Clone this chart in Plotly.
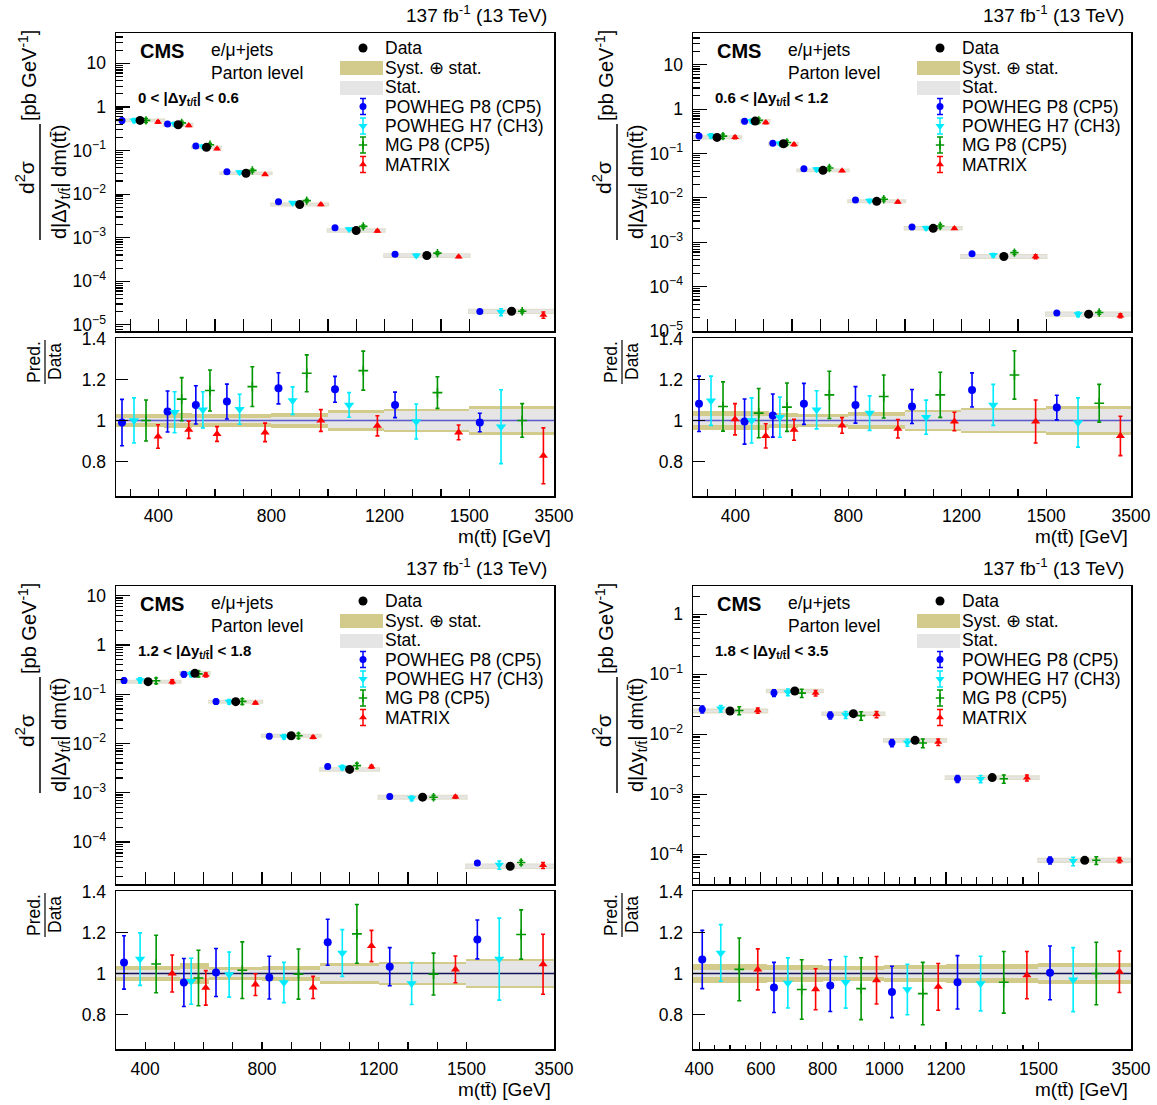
import plotly.graph_objects as go

W, H = 1157, 1105
FONT = "Liberation Sans, Arial, Helvetica, sans-serif"

# ---------------- data ----------------
# bin edges in m(tt) [GeV]
EDGES_A = [250, 420, 520, 620, 800, 1000, 1200, 1500, 3500]   # |dy| < 0.6
EDGES_B = [250, 420, 520, 620, 800, 1000, 1200, 1500, 3500]   # 0.6-1.2
EDGES_C = [300, 520, 620, 800, 1000, 1200, 1500, 3500]        # 1.2-1.8
EDGES_D = [380, 620, 800, 1000, 1200, 1500, 3500]             # 1.8-3.5

# measured cross sections [pb/GeV]
DATA_A = [0.49, 0.39, 0.118, 0.030, 0.00576, 0.00146, 3.9e-4, 2.05e-5]
DATA_B = [0.23, 0.537, 0.166, 0.0417, 0.00836, 0.00206, 4.77e-4, 2.4e-5]
DATA_C = [0.18, 0.265, 0.0705, 0.01436, 0.00297, 8.13e-4, 3.22e-5]
DATA_D = [0.0245, 0.0527, 0.0221, 0.00794, 0.0019, 7.94e-5]

# relative uncertainties (total = syst+stat, stat)
TOT_A = [0.032, 0.038, 0.033, 0.030, 0.036, 0.050, 0.057, 0.070]
STAT_A = [0.014, 0.013, 0.013, 0.014, 0.017, 0.036, 0.045, 0.058]
TOT_B = [0.045, 0.045, 0.035, 0.034, 0.040, 0.053, 0.062, 0.070]
STAT_B = [0.020, 0.020, 0.015, 0.015, 0.020, 0.040, 0.050, 0.058]
TOT_C = [0.036, 0.049, 0.034, 0.036, 0.050, 0.057, 0.072]
STAT_C = [0.018, 0.020, 0.015, 0.018, 0.035, 0.045, 0.060]
TOT_D = [0.047, 0.040, 0.037, 0.043, 0.047, 0.052]
STAT_D = [0.018, 0.015, 0.015, 0.020, 0.022, 0.030]

# prediction / data ratios and their uncertainties
P8_A = [0.99, 1.044, 1.076, 1.092, 1.157, 1.152, 1.076, 0.99]
P8E_A = [0.113, 0.10, 0.093, 0.085, 0.076, 0.063, 0.062, 0.045]
H7_A = [1.0, 1.04, 1.052, 1.055, 1.097, 1.076, 0.995, 0.97]
H7E_A = [0.11, 0.10, 0.088, 0.073, 0.067, 0.06, 0.085, 0.18]
MG_A = [1.0, 1.104, 1.146, 1.165, 1.23, 1.243, 1.136, 1.0]
MGE_A = [0.10, 0.105, 0.10, 0.097, 0.09, 0.095, 0.077, 0.082]
MX_A = [0.922, 0.955, 0.934, 0.942, 1.0, 0.974, 0.942, 0.828]
MXE_A = [0.057, 0.042, 0.036, 0.045, 0.053, 0.049, 0.036, 0.136]

P8_B = [1.081, 0.995, 1.024, 1.081, 1.076, 1.068, 1.149, 1.063]
P8E_B = [0.135, 0.11, 0.105, 0.10, 0.089, 0.083, 0.083, 0.06]
H7_B = [1.096, 1.0, 1.016, 1.052, 1.036, 1.016, 1.076, 0.99]
H7E_B = [0.12, 0.11, 0.098, 0.093, 0.084, 0.083, 0.10, 0.12]
MG_B = [1.068, 1.036, 1.065, 1.125, 1.117, 1.125, 1.222, 1.084]
MGE_B = [0.12, 0.12, 0.118, 0.115, 0.105, 0.11, 0.118, 0.092]
MX_B = [1.006, 0.925, 0.955, 0.976, 0.96, 0.995, 0.995, 0.925]
MXE_B = [0.076, 0.059, 0.051, 0.038, 0.045, 0.045, 0.105, 0.096]

P8_C = [1.054, 0.956, 1.005, 0.98, 1.152, 1.033, 1.166]
P8E_C = [0.13, 0.117, 0.117, 0.104, 0.112, 0.093, 0.095]
H7_C = [1.07, 0.962, 0.995, 0.956, 1.10, 0.951, 1.07]
H7E_C = [0.128, 0.112, 0.11, 0.098, 0.114, 0.102, 0.20]
MG_C = [1.046, 0.978, 1.016, 0.997, 1.193, 0.997, 1.19]
MGE_C = [0.14, 0.135, 0.138, 0.122, 0.143, 0.102, 0.12]
MX_C = [1.0, 0.93, 0.946, 0.932, 1.134, 1.02, 1.045]
MXE_C = [0.09, 0.084, 0.053, 0.054, 0.076, 0.065, 0.146]

P8_D = [1.068, 0.932, 0.941, 0.91, 0.957, 1.003]
P8E_D = [0.142, 0.122, 0.126, 0.125, 0.13, 0.131]
H7_D = [1.10, 0.954, 0.957, 0.922, 0.951, 0.97]
H7E_D = [0.138, 0.122, 0.126, 0.123, 0.133, 0.156]
MG_D = [1.02, 0.922, 0.926, 0.902, 0.957, 1.0]
MGE_D = [0.153, 0.145, 0.151, 0.152, 0.15, 0.152]
MX_D = [1.02, 0.923, 0.967, 0.935, 0.992, 1.008]
MXE_D = [0.10, 0.10, 0.116, 0.114, 0.115, 0.101]

DY_LABELS = ["0 < |\u0394y<sub>t/t\u0304</sub>| < 0.6", "0.6 < |\u0394y<sub>t/t\u0304</sub>| < 1.2",
             "1.2 < |\u0394y<sub>t/t\u0304</sub>| < 1.8", "1.8 < |\u0394y<sub>t/t\u0304</sub>| < 3.5"]
LEGEND_NAMES = ["Data", "Syst. \u2295 stat.", "Stat.", "POWHEG P8 (CP5)", "POWHEG H7 (CH3)",
                "MG P8 (CP5)", "MATRIX"]

# ---------------- styles ----------------
KHAKI = "rgb(211,203,140)"
STATGRAY = "rgb(229,229,229)"
BLUE = "rgb(0,0,255)"
CYAN = "rgb(0,235,255)"
GREEN = "rgb(0,150,0)"
RED = "rgb(255,0,0)"


def disp(m):
    # display coordinate: linear up to 1500 GeV, last bin (1500-3500) compressed
    return m if m <= 1500 else 1500 + (m - 1500) * 300.0 / 2000.0


panels = [
    dict(edges=EDGES_A, data=DATA_A, tot=TOT_A, stat=STAT_A,
         preds=[(P8_A, P8E_A), (H7_A, H7E_A), (MG_A, MGE_A), (MX_A, MXE_A)],
         yr=[-5.14, 1.695], dec=list(range(-5, 2)), col=0, row=0, line="rgb(90,90,205)",
         xlab=[400, 800, 1200, 1500, 3500], step=100),
    dict(edges=EDGES_B, data=DATA_B, tot=TOT_B, stat=STAT_B,
         preds=[(P8_B, P8E_B), (H7_B, H7E_B), (MG_B, MGE_B), (MX_B, MXE_B)],
         yr=[-5.0, 1.715], dec=list(range(-5, 2)), col=1, row=0, line="rgb(90,90,205)",
         xlab=[400, 800, 1200, 1500, 3500], step=100),
    dict(edges=EDGES_C, data=DATA_C, tot=TOT_C, stat=STAT_C,
         preds=[(P8_C, P8E_C), (H7_C, H7E_C), (MG_C, MGE_C), (MX_C, MXE_C)],
         yr=[-4.853, 1.197], dec=list(range(-4, 2)), col=0, row=1, line="rgb(20,20,90)",
         xlab=[400, 800, 1200, 1500, 3500], step=100),
    dict(edges=EDGES_D, data=DATA_D, tot=TOT_D, stat=STAT_D,
         preds=[(P8_D, P8E_D), (H7_D, H7E_D), (MG_D, MGE_D), (MX_D, MXE_D)],
         yr=[-4.495, 0.472], dec=list(range(-4, 1)), col=1, row=1, line="rgb(20,20,90)",
         xlab=[400, 600, 800, 1000, 1200, 1500, 3500], step=50),
]

PRED_STYLE = [
    dict(color=BLUE, symbol="circle", size=7),
    dict(color=CYAN, symbol="triangle-down", size=8),
    dict(color=GREEN, symbol="cross-thin", size=6),
    dict(color=RED, symbol="triangle-up", size=7),
]
UP_FRAC = [0.125, 0.375, 0.625, 0.875]

COLX = [(116, 554), (693, 1131)]
ROWY = [(33, 331, 338, 496), (586, 884, 891, 1049)]

fig = go.Figure()
layout = dict(width=W, height=H, margin=dict(l=0, r=0, t=0, b=0, pad=0, autoexpand=False),
              paper_bgcolor="white", plot_bgcolor="rgba(0,0,0,0)",
              showlegend=False, barmode="overlay", bargap=0, hovermode=False,
              font=dict(family=FONT, size=17, color="black"))
shapes = []
annotations = []


def pred_marker(st):
    if st["symbol"] == "cross-thin":
        return dict(symbol="cross-thin", size=st["size"], color=st["color"],
                    line=dict(color=st["color"], width=1.6))
    return dict(symbol=st["symbol"], size=st["size"], color=st["color"], line=dict(width=0))


def dec_text(n):
    if n == 1:
        return "10"
    if n == 0:
        return "1"
    return "10<sup>\u2212%d</sup>" % (-n)


for i, p in enumerate(panels):
    iu, ir = 2 * i + 1, 2 * i + 2
    xu = "x" if iu == 1 else "x%d" % iu
    yu = "y" if iu == 1 else "y%d" % iu
    xr, yr = "x%d" % ir, "y%d" % ir
    x0p, x1p = COLX[p["col"]]
    ut, ub, rt, rb = ROWY[p["row"]]
    xdom = [x0p / W, x1p / W]
    edges = p["edges"]
    lo = [disp(e) for e in edges[:-1]]
    hi = [disp(e) for e in edges[1:]]
    wid = [h - l for l, h in zip(lo, hi)]
    cen = [l + w / 2 for l, w in zip(lo, wid)]
    data = p["data"]
    xmin_axis = disp(edges[0])
    xmax_axis = disp(edges[-1])

    # ---- tick positions on x ----
    step = p["step"]
    start = (int(xmin_axis) // step + 1) * step
    all_ticks = list(range(start, 1500 + 1, step))
    lab_vals = [disp(v) for v in p["xlab"]]
    lab_text = [str(v) for v in p["xlab"]]
    other = [t for t in all_ticks if t not in lab_vals]

    common_x = dict(domain=xdom, range=[xmin_axis, xmax_axis], showgrid=False, zeroline=False,
                    showline=True, mirror=True, linecolor="black", linewidth=1.5,
                    ticks="inside", tickcolor="black", tickwidth=1.2, tickmode="array",
                    fixedrange=True, automargin=False, tickvals=lab_vals, ticktext=lab_text)
    layout["xaxis" if iu == 1 else "xaxis%d" % iu] = dict(
        common_x, anchor=yu, ticklen=12, showticklabels=False,
        minor=dict(tickmode="array", tickvals=other, ticks="inside",
                   ticklen=12 if step == 100 else 7, tickcolor="black", tickwidth=1.2))
    layout["xaxis%d" % ir] = dict(
        common_x, anchor=yr, ticklen=7,
        tickfont=dict(size=17.5, family=FONT), ticklabelstandoff=3,
        minor=dict(tickmode="array", tickvals=other, ticks="inside",
                   ticklen=7 if step == 100 else 4, tickcolor="black", tickwidth=1.2))

    decs = p["dec"]
    ytv = [10.0 ** n for n in decs]
    ymin = []
    for n in range(decs[0] - 1, decs[-1] + 1):
        for k in range(2, 10):
            ymin.append(k * 10.0 ** n)
    layout["yaxis" if iu == 1 else "yaxis%d" % iu] = dict(
        domain=[1 - ub / H, 1 - ut / H], type="log", range=p["yr"], anchor=xu,
        showgrid=False, zeroline=False, showline=True, mirror=True, linecolor="black",
        linewidth=1.5, ticks="inside", ticklen=14, tickcolor="black", tickwidth=1.2,
        tickmode="array", tickvals=ytv, ticktext=[dec_text(n) for n in decs],
        tickfont=dict(size=17.5, family=FONT), ticklabelstandoff=5, fixedrange=True,
        automargin=False,
        minor=dict(tickmode="array", tickvals=ymin, ticks="inside", ticklen=7, tickcolor="black"))
    layout["yaxis%d" % ir] = dict(
        domain=[1 - rb / H, 1 - rt / H], range=[0.632, 1.402], anchor=xr,
        showgrid=False, zeroline=False, showline=True, mirror=True, linecolor="black",
        linewidth=1.5, ticks="inside", ticklen=12, tickcolor="black", tickwidth=1.2,
        tickmode="array", tickvals=[0.8, 1.0, 1.2, 1.4], ticktext=["0.8", "1", "1.2", "1.4"],
        tickfont=dict(size=17.5, family=FONT), ticklabelstandoff=5, fixedrange=True,
        automargin=False)

    # ---- upper panel: uncertainty boxes ----
    tot_lo = [d * (1 - t) for d, t in zip(data, p["tot"])]
    tot_len = [d * 2 * t for d, t in zip(data, p["tot"])]
    st_lo = [d * (1 - s) for d, s in zip(data, p["stat"])]
    st_len = [d * 2 * s for d, s in zip(data, p["stat"])]
    fig.add_trace(go.Bar(x=cen, y=tot_len, base=tot_lo, width=wid, xaxis=xu, yaxis=yu,
                         marker=dict(color=KHAKI, line=dict(color="rgb(225,222,200)", width=2.5)),
                         hoverinfo="skip"))
    fig.add_trace(go.Bar(x=cen, y=st_len, base=st_lo, width=wid, xaxis=xu, yaxis=yu,
                         marker=dict(color=STATGRAY, line=dict(color=STATGRAY, width=1)),
                         hoverinfo="skip"))
    # predictions in upper panel
    for k, (rat, err) in enumerate(p["preds"]):
        st = PRED_STYLE[k]
        fig.add_trace(go.Scatter(
            x=[l + UP_FRAC[k] * w for l, w in zip(lo, wid)],
            y=[d * r for d, r in zip(data, rat)], xaxis=xu, yaxis=yu, mode="markers",
            marker=pred_marker(st),
            error_y=dict(type="data", array=[d * e for d, e in zip(data, err)],
                         color=st["color"], thickness=1.5, width=2)))
    # data
    fig.add_trace(go.Scatter(x=cen, y=data, xaxis=xu, yaxis=yu, mode="markers",
                             marker=dict(color="black", size=9, symbol="circle")))

    # ---- ratio panel ----
    fig.add_trace(go.Bar(x=cen, y=[2 * t for t in p["tot"]], base=[1 - t for t in p["tot"]],
                         width=wid, xaxis=xr, yaxis=yr,
                         marker=dict(color=KHAKI, line=dict(width=0)), hoverinfo="skip"))
    fig.add_trace(go.Bar(x=cen, y=[2 * s for s in p["stat"]], base=[1 - s for s in p["stat"]],
                         width=wid, xaxis=xr, yaxis=yr,
                         marker=dict(color=STATGRAY, line=dict(width=0)), hoverinfo="skip"))
    fig.add_trace(go.Scatter(x=[xmin_axis, xmax_axis], y=[1, 1], xaxis=xr, yaxis=yr, mode="lines",
                             line=dict(color=p["line"], width=1.6)))
    for k, (rat, err) in enumerate(p["preds"]):
        st = PRED_STYLE[k]
        fig.add_trace(go.Scatter(
            x=[l + UP_FRAC[k] * w for l, w in zip(lo, wid)], y=rat, xaxis=xr, yaxis=yr,
            mode="markers", marker=pred_marker(dict(st, size=st["size"] + 1)),
            error_y=dict(type="data", array=err, color=st["color"], thickness=1.6, width=2)))

    # ---- text & legend (pixel coordinates on overlay axis) ----
    dx = 577 * p["col"]
    dy = 553 * p["row"]

    def A(x, y, text, size, xa="left", ya="middle", ang=0):
        annotations.append(dict(x=x + dx, y=y + dy, xref="x9", yref="y9", text=text,
                                showarrow=False, xanchor=xa, yanchor=ya, textangle=ang,
                                font=dict(size=size, family=FONT, color="black")))

    A(549, 14, "137 fb<sup>-1</sup> (13 TeV)", 19, xa="right")
    A(138, 51, "<b>CMS</b>", 20)
    A(209, 50, "e/\u03bc+jets", 17.5)
    A(209, 73, "Parton level", 17.5)
    A(136, 98, "<b>" + DY_LABELS[i] + "</b>", 15)
    ly = [48, 67.5, 87, 106.5, 126, 145, 164.5]
    for name, yy in zip(LEGEND_NAMES, ly):
        A(383, yy, name, 17.5)
    # y axis titles
    A(25, 178, "d<sup>2</sup>\u03c3", 21, xa="center", ya="middle", ang=-90)
    A(60, 182, "d|\u0394y<sub>t/t\u0304</sub>| dm(tt\u0304)", 20, xa="center", ya="middle", ang=-90)
    A(27, 76, "[pb GeV<sup>-1</sup>]", 20, xa="center", ya="middle", ang=-90)
    shapes.append(dict(type="line", xref="x9", yref="y9", x0=40 + dx, x1=40 + dx,
                       y0=124 + dy, y1=240 + dy, line=dict(color="black", width=1.5)))
    A(34, 362, "Pred.", 17.5, xa="center", ya="middle", ang=-90)
    A(55, 362, "Data", 17.5, xa="center", ya="middle", ang=-90)
    shapes.append(dict(type="line", xref="x9", yref="y9", x0=45 + dx, x1=45 + dx,
                       y0=340 + dy, y1=384 + dy, line=dict(color="black", width=1.2)))
    A(553, 536, "m(tt\u0304) [GeV]", 19, xa="right")
    # legend boxes
    shapes.append(dict(type="rect", xref="x9", yref="y9", x0=340 + dx, x1=383 + dx,
                       y0=61 + dy, y1=75 + dy, fillcolor=KHAKI, line=dict(width=0)))
    shapes.append(dict(type="rect", xref="x9", yref="y9", x0=340 + dx, x1=383 + dx,
                       y0=81 + dy, y1=95 + dy, fillcolor=STATGRAY, line=dict(width=0)))
    # legend markers
    fig.add_trace(go.Scatter(x=[363 + dx], y=[48 + dy], xaxis="x9", yaxis="y9", mode="markers",
                             marker=dict(color="black", size=9)))
    for k, yy in enumerate(ly[3:]):
        st = PRED_STYLE[k]
        fig.add_trace(go.Scatter(x=[363 + dx], y=[yy + dy], xaxis="x9", yaxis="y9",
                                 mode="markers", marker=pred_marker(st),
                                 error_y=dict(type="data", array=[8], color=st["color"],
                                              thickness=1.5, width=3)))

layout["xaxis9"] = dict(domain=[0, 1], range=[0, W], visible=False, fixedrange=True,
                        anchor="y9", automargin=False)
layout["yaxis9"] = dict(domain=[0, 1], range=[H, 0], visible=False, fixedrange=True,
                        anchor="x9", automargin=False)
layout["shapes"] = shapes
layout["annotations"] = annotations
fig.update_layout(**layout)
fig.write_html("out.html", config={"displayModeBar": False, "staticPlot": True},
               post_script="document.body.style.margin='0px';document.body.style.overflow='hidden';")
